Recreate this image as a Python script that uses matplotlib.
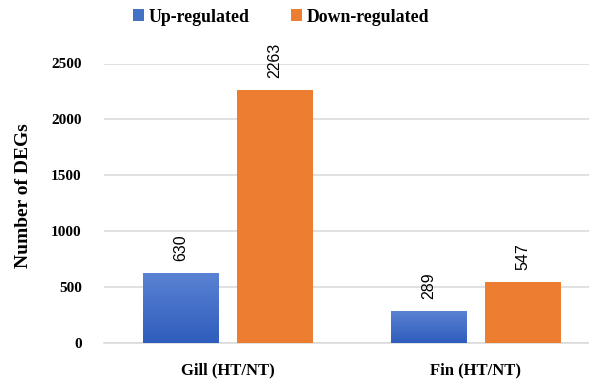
import numpy as np
import matplotlib
matplotlib.use("Agg")
import matplotlib.pyplot as plt
from matplotlib.colors import LinearSegmentedColormap
from matplotlib.patches import Patch

categories = ["Gill (HT/NT)", "Fin (HT/NT)"]
up_regulated = [630, 289]
down_regulated = [2263, 547]
series_names = ["Up-regulated", "Down-regulated"]
y_ticks = [0, 500, 1000, 1500, 2000, 2500]

serif = "Liberation Serif"
blue = "#4472C4"
orange = "#ED7D31"
blue_grad = LinearSegmentedColormap.from_list("blue_grad", ["#2F5DBD", "#5B83D3"])

fig = plt.figure(figsize=(5.89, 3.79), dpi=100)
W, H = 589, 379
ax = fig.add_axes([104 / W, (H - 343) / H, 496 / W, 279.5 / H])

x = np.arange(len(categories))
bw = 0.306
off = 0.19

# gridlines behind the bars
ax.set_axisbelow(True)
ax.yaxis.grid(True, color="#D9D9D9", linewidth=1.1)
for s in ["top", "right", "left"]:
    ax.spines[s].set_visible(False)
ax.spines["bottom"].set_color("#D9D9D9")
ax.spines["bottom"].set_linewidth(1.1)

up_bars = ax.bar(x - off, up_regulated, width=bw, color="none", edgecolor="none", zorder=3)
down_bars = ax.bar(x + off, down_regulated, width=bw, color=orange, edgecolor="none", zorder=3)

# vertical gradient fill for the up-regulated bars
grad = np.linspace(0, 1, 256).reshape(-1, 1)
for b in up_bars:
    x0, y0 = b.get_x(), b.get_y()
    im = ax.imshow(grad, cmap=blue_grad, origin="lower", aspect="auto",
                   extent=[x0, x0 + b.get_width(), y0, y0 + b.get_height()], zorder=3)
    im.set_clip_path(b)

ax.set_xlim(-0.5, 1.5)
ax.set_ylim(0, 2500)
ax.set_yticks(y_ticks)
ax.set_yticklabels([str(t) for t in y_ticks], fontfamily=serif, fontweight="bold", fontsize=11)
ax.set_xticks(x)
ax.set_xticklabels(categories, fontfamily=serif, fontweight="bold", fontsize=12)
ax.tick_params(axis="y", length=0, pad=16)
ax.tick_params(axis="x", length=0, pad=14)
ax.set_ylabel("Number of DEGs", fontfamily=serif, fontweight="bold", fontsize=14, va="center")
ax.yaxis.set_label_coords(-0.162, 0.526)

# value labels above each bar
for bars, vals in ((up_bars, up_regulated), (down_bars, down_regulated)):
    for b, v in zip(bars, vals):
        ax.annotate(str(v), (b.get_x() + b.get_width() / 2, v), xytext=(0, 12),
                    textcoords="offset pixels",
                    rotation=90, ha="center", va="bottom", fontsize=11.5,
                    fontfamily="Liberation Sans", color="#000000", clip_on=False)

handles = [Patch(facecolor=blue, edgecolor="none"), Patch(facecolor=orange, edgecolor="none")]
fig.legend(handles, series_names, loc="center", bbox_to_anchor=(281 / W, 1 - 17 / H), ncol=2,
           frameon=False, prop={"family": serif, "weight": "bold", "size": 12.8},
           handlelength=0.65, handleheight=0.65, handletextpad=0.25, columnspacing=2.3)

fig.savefig("out.png", dpi=100)
